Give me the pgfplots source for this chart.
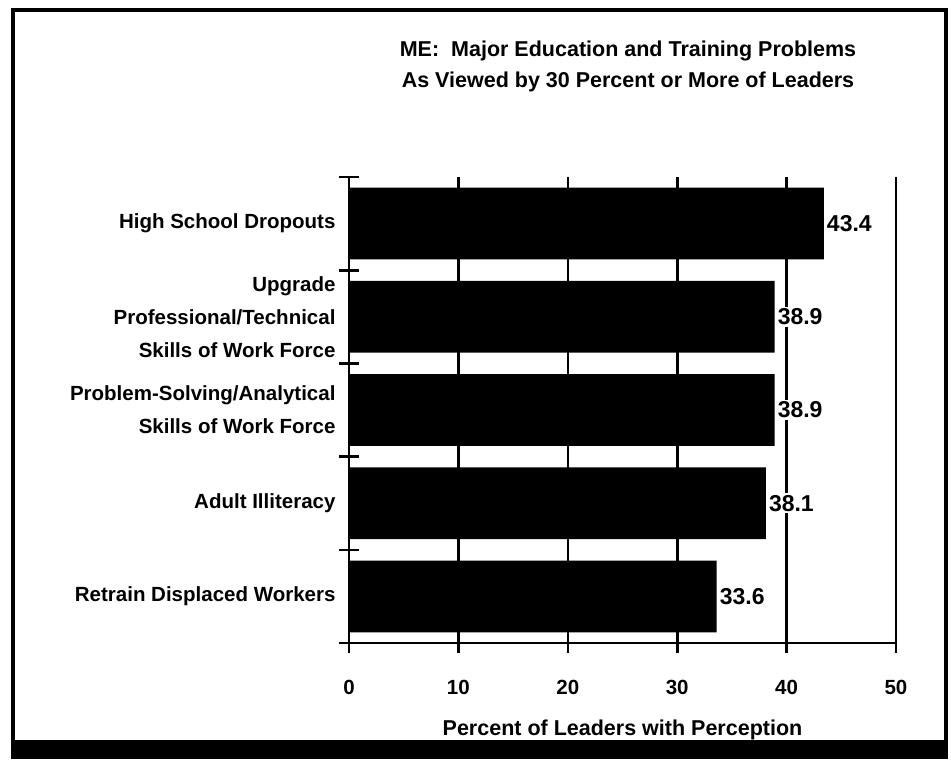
\documentclass[border=0pt]{standalone}
\usepackage{fontspec}
\setmainfont{Liberation Sans}
\usepackage{pgfplots}
\pgfplotsset{compat=1.18}
\begin{document}
\begin{tikzpicture}[x=1pt,y=1pt]
\useasboundingbox (0,0) rectangle (951,764);
\fill[white] (0,0) rectangle (951,764);
% scanned frame
\draw[line width=4.5pt] (13,7) rectangle (946,754);
\fill (11,6) rectangle (948,24);
\node[align=center, font=\bfseries\fontsize{21.5}{31}\selectfont] at (628,698)
  {ME:\ \ Major Education and Training Problems\\As Viewed by 30 Percent or More of Leaders};
\begin{axis}[
  at={(349pt,121pt)}, anchor=south west,
  width=547pt, height=466pt, scale only axis,
  xmin=0, xmax=50, ymin=0, ymax=5,
  axis lines=left, axis line style={-, line width=2.6pt},
  xtick={0,10,...,50},
  xmajorgrids, major grid style={line width=2.6pt, black},
  tick align=center, major tick length=20pt,
  tick style={line width=2.6pt, black},
  ytick={0,1,2,3,4,5}, yticklabels={},
  extra y ticks={0.5,1.5,2.5,3.5,4.5},
  extra y tick labels={{Retrain Displaced Workers},{Adult Illiteracy},
    {Problem-Solving/Analytical\\Skills of Work Force},
    {Upgrade\\Professional/Technical\\Skills of Work Force},
    {High School Dropouts}},
  extra y tick style={tick style={draw=none}},
  /pgf/number format/assume math mode=true,
  xticklabel style={font=\bfseries\fontsize{20.5}{20}\selectfont, anchor=center, yshift=-34pt},
  yticklabel style={font=\bfseries\fontsize{20.5}{33}\selectfont, align=right, anchor=east},
  xlabel={Percent of Leaders with Perception},
  xlabel style={font=\bfseries\fontsize{21.5}{21}\selectfont,
    at={(axis description cs:0.5,0)}, anchor=center, yshift=-87pt},
]
\addplot[xbar, bar shift=0pt, bar width=0.77, fill=black, draw=none,
  nodes near coords={\pgfmathprintnumber[fixed,fixed zerofill,precision=1,assume math mode=true]{\pgfplotspointmeta}},
  every node near coord/.append style={font=\bfseries\fontsize{23}{23}\selectfont,
    fill=white, inner sep=2pt, anchor=west, xshift=1pt}]
  coordinates {(33.6,0.5) (38.1,1.5) (38.9,2.5) (38.9,3.5) (43.4,4.5)};
\end{axis}
\end{tikzpicture}
\end{document}
